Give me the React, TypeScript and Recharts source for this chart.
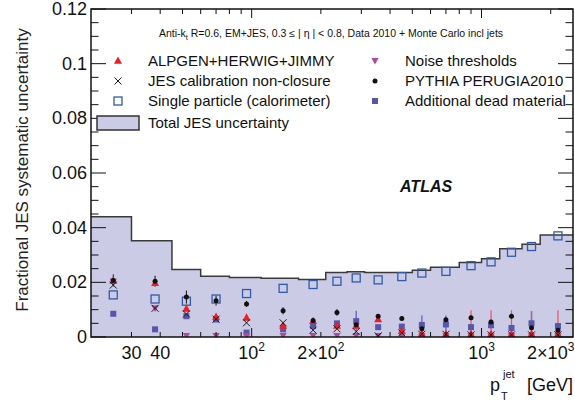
import React from 'react';
import { ComposedChart, Area, Scatter, XAxis, YAxis, ErrorBar } from 'recharts';

// pT bins (GeV) and the total JES uncertainty per bin
const binEdges = [20, 30, 45, 60, 80, 110, 160, 210, 260, 310, 400, 500, 600, 800, 1000, 1200, 1500, 1800, 2500];
const totalJES = [0.044, 0.0352, 0.0247, 0.0222, 0.0218, 0.0215, 0.021, 0.0236, 0.0239, 0.0236, 0.0236, 0.0244, 0.0255, 0.0273, 0.0286, 0.0323, 0.0339, 0.0373];

// bin centres where the single components are drawn
const ptCenters = [25, 38, 52, 70, 95, 137, 185, 235, 285, 355, 450, 550, 700, 900, 1100, 1350, 1650, 2150];

const alpgen = [0.0205, 0.0197, 0.0103, 0.0073, 0.007, 0.004, 0.0058, 0.004, 0.004, 0.0064, 0.0022, 0.0012, 0.001, 0.001, 0.001, 0.001, 0.001, 0.001];
const alpgenErrUp = [0, 0, 0, 0, 0, 0, 0, 0, 0, 0, 0, 0, 0, 0.0088, 0.0088, 0.0088, 0.0085, 0.0088];
const nonClosure = [0.019, 0.0105, 0.0084, 0.0065, 0.0052, 0.0052, 0.0025, 0.003, 0.002, 0.0004, 0.0015, 0.001, 0.001, 0.0008, 0.0008, 0.0008, 0.0008, 0.0008];
const singleParticle = [0.0154, 0.0139, 0.0131, 0.0139, 0.0159, 0.0178, 0.0192, 0.0204, 0.0216, 0.0209, 0.0221, 0.0234, 0.024, 0.0261, 0.0275, 0.031, 0.0331, 0.037];
const noise = [0.0203, 0.0105, 0.0004, 0.0004, 0.0004, 0.0004, 0.0004, 0.0004, 0.0004, 0.0004, 0.0003, 0.0003, 0.0003, 0.0003, 0.0003, 0.0003, 0.0003, 0.0003];
const pythia = [0.0207, 0.0204, 0.0146, 0.0133, 0.0121, 0.0096, 0.006, 0.009, 0.0045, 0.0076, 0.0068, 0.003, 0.0063, 0.007, 0.0055, 0.0076, 0.0034, 0.0025];
const pythiaErr = [0.0022, 0.002, 0.0024, 0.0018, 0.0011, 0.0013, 0.001, 0.0012, 0.001, 0.0008, 0.0008, 0.001, 0.0008, 0.0008, 0.0008, 0.0008, 0.0008, 0.0008];
const deadMaterial = [0.0085, 0.0028, 0.0076, 0.0064, 0.0016, 0.0028, 0.004, 0.005, 0.0058, 0.0036, 0.0038, 0.0044, 0.0046, 0.0036, 0.0043, 0.0033, 0.005, 0.004];
const deadMaterialErr = [0, 0, 0, 0, 0, 0, 0, 0, 0.0038, 0, 0, 0.0035, 0.0033, 0.0012, 0.0012, 0.0012, 0.0045, 0.001];

const xTicks = [30, 40, 50, 60, 70, 80, 90, 100, 200, 300, 400, 500, 600, 700, 800, 900, 1000, 2000];
const xTickLabels: Record<number, [string, string]> = {
  30: ['30', ''],
  40: ['40', ''],
  100: ['10', '2'],
  200: ['2×10', '2'],
  1000: ['10', '3'],
  2000: ['2×10', '3'],
};
const yTicks = Array.from({ length: 25 }, (_, i) => +(i * 0.005).toFixed(3));
const yTickLabels: Record<string, string> = {
  '0': '0', '0.02': '0.02', '0.04': '0.04', '0.06': '0.06', '0.08': '0.08', '0.1': '0.1', '0.12': '0.12',
};

// plot frame
const L = 91;
const R = 573;
const T = 9;
const B = 337;
const FONT = '"Liberation Sans", Arial, Helvetica, sans-serif';

const histData = binEdges.map((e, i) => ({ x: e, y: totalJES[Math.min(i, totalJES.length - 1)] }));
const pts = (vals: number[], errs?: (number | number[])[]) =>
  ptCenters.map((x, i) => ({ x, y: vals[i], err: errs ? errs[i] : 0 }));

const COL = {
  fill: '#cbcbe6',
  line: '#3a3a3a',
  red: '#ee1c25',
  blue: '#2f5bab',
  slate: '#5656ab',
  pink: '#b4479e',
};

const TriUp = ({ cx, cy }: any) => (
  <polygon points={`${cx},${cy - 4.5} ${cx - 4},${cy + 2.8} ${cx + 4},${cy + 2.8}`} fill={COL.red} />
);
const TriDown = ({ cx, cy }: any) => (
  <polygon points={`${cx - 3.6},${cy - 3} ${cx + 3.6},${cy - 3} ${cx},${cy + 3.6}`} fill={COL.pink} />
);
const Cross = ({ cx, cy }: any) => (
  <g stroke="#1a1a1a" strokeWidth={1}>
    <line x1={cx - 3.5} y1={cy - 3.5} x2={cx + 3.5} y2={cy + 3.5} />
    <line x1={cx - 3.5} y1={cy + 3.5} x2={cx + 3.5} y2={cy - 3.5} />
  </g>
);
const OpenSq = ({ cx, cy }: any) => (
  <rect x={cx - 4} y={cy - 4} width={8} height={8} fill="none" stroke={COL.blue} strokeWidth={1.3} />
);
const FullSq = ({ cx, cy }: any) => <rect x={cx - 3} y={cy - 3} width={6} height={6} fill={COL.slate} />;
const Dot = ({ cx, cy }: any) => <circle cx={cx} cy={cy} r={2.5} fill="#111" />;

const XTick = ({ x, payload }: any) => {
  const v = payload.value;
  const major = v === 100 || v === 1000;
  const len = major ? 9 : 5;
  const lab = xTickLabels[v];
  return (
    <g>
      <line x1={x} y1={B} x2={x} y2={B - len} stroke="#111" strokeWidth={1} />
      <line x1={x} y1={T} x2={x} y2={T + len} stroke="#111" strokeWidth={1} />
      {lab && (
        <text x={x} y={359} textAnchor="middle" fontFamily={FONT} fontSize={18} fill="#111">
          {lab[0]}
          {lab[1] && (
            <tspan fontSize={12} dy={-8}>
              {lab[1]}
            </tspan>
          )}
        </text>
      )}
    </g>
  );
};

const YTick = ({ y, payload }: any) => {
  const key = String(payload.value);
  const lab = yTickLabels[key];
  const len = lab ? 15 : 7.5;
  return (
    <g>
      <line x1={L} y1={y} x2={L + len} y2={y} stroke="#111" strokeWidth={1} />
      <line x1={R} y1={y} x2={R - len} y2={y} stroke="#111" strokeWidth={1} />
      {lab && (
        <text x={87} y={y} dy={6} textAnchor="end" fontFamily={FONT} fontSize={18} fill="#111">
          {lab}
        </text>
      )}
    </g>
  );
};

const legendLeft = [
  { label: 'ALPGEN+HERWIG+JIMMY', Shape: TriUp, y: 61 },
  { label: 'JES calibration non-closure', Shape: Cross, y: 81 },
  { label: 'Single particle (calorimeter)', Shape: OpenSq, y: 101 },
];
const legendRight = [
  { label: 'Noise thresholds', Shape: TriDown, y: 61 },
  { label: 'PYTHIA PERUGIA2010', Shape: Dot, y: 81 },
  { label: 'Additional dead material', Shape: FullSq, y: 101 },
];

export default function App() {
  return (
    <div style={{ position: 'absolute', left: 0, top: 0, width: 575, height: 401, background: '#fff' }}>
      <ComposedChart width={575} height={401} data={histData} margin={{ top: T, right: 575 - R, bottom: 0, left: 0 }}>
        <XAxis
          xAxisId={0}
          type="number"
          dataKey="x"
          scale="log"
          domain={[20, 2500]}
          allowDataOverflow
          ticks={xTicks}
          interval={0}
          tick={<XTick />}
          tickLine={false}
          axisLine={false}
          height={401 - B}
        />
        <YAxis
          yAxisId={0}
          type="number"
          domain={[0, 0.12]}
          allowDataOverflow
          ticks={yTicks}
          interval={0}
          tick={<YTick />}
          tickLine={false}
          axisLine={false}
          width={L}
        />
        <Area
          type="stepAfter"
          dataKey="y"
          fill={COL.fill}
          fillOpacity={1}
          stroke={COL.line}
          strokeWidth={1.5}
          isAnimationActive={false}
          dot={false}
          activeDot={false}
        />
        <Scatter data={pts(deadMaterial, deadMaterialErr)} dataKey="y" shape={<FullSq />} isAnimationActive={false}>
          <ErrorBar dataKey="err" direction="y" width={0} stroke="#7070c0" strokeWidth={1.5} />
        </Scatter>
        <Scatter data={pts(noise)} dataKey="y" shape={<TriDown />} isAnimationActive={false} />
        <Scatter
          data={pts(alpgen, alpgenErrUp.map((e, i) => [Math.min(alpgen[i], e), e]))}
          dataKey="y"
          shape={<TriUp />}
          isAnimationActive={false}
        >
          <ErrorBar dataKey="err" direction="y" width={0} stroke="#f0505a" strokeWidth={1.2} />
        </Scatter>
        <Scatter data={pts(nonClosure)} dataKey="y" shape={<Cross />} isAnimationActive={false} />
        <Scatter data={pts(singleParticle)} dataKey="y" shape={<OpenSq />} isAnimationActive={false} />
        <Scatter data={pts(pythia, pythiaErr)} dataKey="y" shape={<Dot />} isAnimationActive={false}>
          <ErrorBar dataKey="err" direction="y" width={0} stroke="#111" strokeWidth={1} />
        </Scatter>
      </ComposedChart>

      <svg width={575} height={401} style={{ position: 'absolute', left: 0, top: 0, pointerEvents: 'none' }}>
        <rect x={L} y={T} width={R - L} height={B - T} fill="none" stroke="#111" strokeWidth={1.5} />
        <text x={331} y={37} textAnchor="middle" fontFamily={FONT} fontSize={10.5} fill="#111">
          Anti-k<tspan fontSize={7.5} dy={3}>t</tspan>
          <tspan dy={-3}> R=0.6, EM+JES, 0.3 ≤ | η | &lt; 0.8, Data 2010 + Monte Carlo incl jets</tspan>
        </text>
        {legendLeft.map(({ label, Shape, y }) => (
          <g key={label}>
            <Shape cx={118} cy={y} />
            <text x={148} y={y + 5} fontFamily={FONT} fontSize={15} fill="#111">
              {label}
            </text>
          </g>
        ))}
        {legendRight.map(({ label, Shape, y }) => (
          <g key={label}>
            <Shape cx={375} cy={y} />
            <text x={405} y={y + 5} fontFamily={FONT} fontSize={15} fill="#111">
              {label}
            </text>
          </g>
        ))}
        <rect x={97} y={116} width={42} height={14} fill={COL.fill} stroke="#333" strokeWidth={1.5} />
        <text x={148} y={128} fontFamily={FONT} fontSize={15} fill="#111">
          Total JES uncertainty
        </text>
        <text x={400} y={192} fontFamily={FONT} fontSize={16} fontWeight="bold" fontStyle="italic" fill="#111">
          ATLAS
        </text>
        <text
          x={0}
          y={0}
          transform="translate(28,170) rotate(-90)"
          textAnchor="middle"
          fontFamily={FONT}
          fontSize={17}
          fill="#222"
        >
          Fractional JES systematic uncertainty
        </text>
        <text x={490} y={391} fontFamily={FONT} fontSize={18} fill="#111">p</text>
        <text x={503} y={378} fontFamily={FONT} fontSize={11} fill="#111">jet</text>
        <text x={501} y={400} fontFamily={FONT} fontSize={11} fill="#111">T</text>
        <text x={527} y={391} fontFamily={FONT} fontSize={18} fill="#111">[GeV]</text>
      </svg>
    </div>
  );
}
